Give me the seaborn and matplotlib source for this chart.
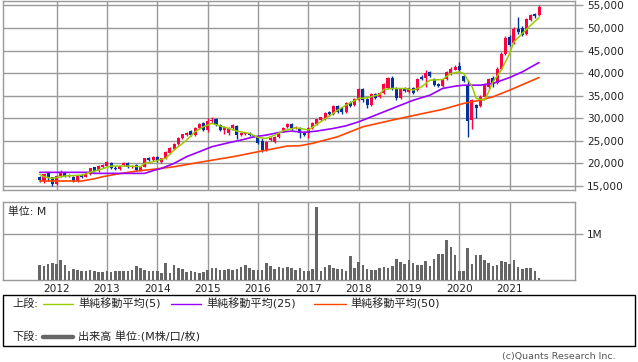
import numpy as np
import pandas as pd
import matplotlib
matplotlib.use("Agg")
import matplotlib.pyplot as plt
from matplotlib.patches import Rectangle
from matplotlib.lines import Line2D
import seaborn as sns

# ---------------- data (monthly, 2011-09 .. 2021-08) ----------------
START_MONTH = "2011-09"

opens = [17060, 16180, 17800, 16900, 15440, 17210, 17950, 17500, 17060, 16110,
         17430, 17060, 17580, 19130, 18390, 19300, 19500, 20160, 19050, 18760,
         19650, 20010, 19300, 19650, 18540, 19270, 21270, 20750, 21420, 20400,
         21120, 22400, 23300, 24300, 25700, 26300, 27235, 26280, 27900, 28900,
         27400, 29300, 29750, 28490, 27300, 26800, 27760, 28400, 26300, 26500,
         26700, 26200, 25940, 25000, 22960, 25180, 24800, 25770, 27010, 28000,
         28710, 27800, 27900, 26900, 26650, 27900, 28800, 29700, 29750, 31440,
         30900, 32770, 32300, 31440, 33430, 32920, 34020, 36390, 34180, 32920,
         35280, 34800, 35640, 36610, 38960, 36610, 34400, 36610, 35860, 36610,
         36235, 39260, 38900, 40150, 38670, 37700, 37120, 38600, 39930, 40810,
         41620, 39330, 37340, 29600, 32920, 32700, 34760, 36830, 39040, 37850,
         41030, 44350, 48030, 46700, 49880, 50100, 48780, 51880, 53050, 52830]
highs = [17280, 17700, 17900, 17060, 17500, 18540, 18200, 17700, 17300, 17450,
         17650, 17800, 19100, 19300, 19600, 19900, 20500, 20300, 19400, 19700,
         20300, 20400, 19700, 19800, 19500, 21300, 21500, 21700, 21600, 21300,
         22800, 23700, 24600, 25900, 26600, 26900, 27500, 28100, 29000, 29100,
         30100, 30200, 30000, 28700, 28300, 28000, 28700, 28600, 26900, 26900,
         26900, 26400, 26200, 25600, 25000, 25800, 26100, 26800, 28100, 28900,
         28900, 28300, 28100, 27200, 28100, 29100, 29900, 30400, 31400, 31700,
         32900, 33000, 32600, 33700, 33800, 34400, 36700, 36800, 34500, 35500,
         35700, 35900, 37900, 39100, 39300, 36900, 36700, 37000, 36900, 36900,
         38900, 39500, 40800, 40500, 38900, 37900, 38800, 40500, 41300, 41800,
         42500, 39600, 38500, 34300, 33200, 35130, 37900, 38900, 39400, 41300,
         44600, 48200, 48500, 50200, 52450, 50500, 52300, 53200, 53300, 55040]
lows = [15960, 15590, 16110, 15070, 15300, 17000, 17000, 17100, 15900, 15960,
        16800, 16900, 17500, 18200, 18200, 19100, 19400, 18700, 18600, 18600,
        19500, 19000, 19100, 18400, 18300, 19200, 20600, 20500, 20300, 20100,
        21000, 22200, 22900, 24100, 25500, 26000, 26000, 26100, 27700, 27100,
        27000, 29000, 28300, 27200, 26600, 26400, 27500, 25500, 26000, 26200,
        26000, 25800, 24200, 22500, 22800, 24900, 24600, 25600, 26900, 27800,
        27500, 27600, 25700, 26000, 25700, 27700, 28600, 29500, 29600, 30600,
        30700, 31200, 31000, 31200, 32500, 32700, 33800, 33700, 32200, 32700,
        34300, 34600, 35400, 36400, 36200, 34100, 34200, 35800, 35600, 35300,
        36000, 38400, 37000, 39100, 37100, 36900, 36900, 38400, 39700, 40600,
        40500, 38000, 25770, 27540, 29970, 32500, 34500, 36600, 37000, 37600,
        40800, 44100, 46000, 46400, 48780, 48200, 48400, 51600, 52200, 52600]
closes = [16330, 17580, 17060, 15440, 17210, 18170, 17210, 17280, 16110, 17280,
          17060, 17580, 18910, 18390, 19420, 19650, 20240, 18910, 18760, 19500,
          20010, 19130, 19450, 18540, 19270, 21120, 20750, 21490, 20530, 21120,
          22590, 23480, 24360, 25690, 26430, 26720, 26280, 27900, 28790, 27390,
          29500, 29700, 28490, 27390, 28120, 27760, 28490, 26280, 26700, 26650,
          26200, 26000, 24440, 22960, 24800, 25550, 25900, 26650, 27900, 28640,
          27750, 28050, 26650, 26400, 27900, 28870, 29750, 30200, 31210, 30850,
          32700, 31440, 31300, 33430, 32770, 34180, 36390, 34020, 32920, 35280,
          34550, 35640, 37710, 38820, 36460, 34400, 36460, 36020, 36610, 35500,
          38670, 38670, 39930, 39330, 37340, 37120, 38600, 40290, 41030, 41400,
          40810, 38230, 29450, 34020, 32180, 34760, 37700, 38670, 37850, 41030,
          44350, 47890, 46190, 49880, 49130, 48400, 52100, 52830, 52600, 54660]
volume_m = [0.333, 0.312, 0.355, 0.377, 0.355, 0.442, 0.333, 0.203, 0.246, 0.225,
            0.210, 0.210, 0.225, 0.203, 0.174, 0.188, 0.196, 0.174, 0.196, 0.196,
            0.203, 0.210, 0.225, 0.312, 0.261, 0.225, 0.203, 0.203, 0.203, 0.159,
            0.377, 0.159, 0.333, 0.268, 0.239, 0.174, 0.196, 0.174, 0.152, 0.174,
            0.225, 0.261, 0.275, 0.232, 0.232, 0.246, 0.232, 0.246, 0.297, 0.333,
            0.261, 0.217, 0.225, 0.225, 0.377, 0.319, 0.254, 0.290, 0.268, 0.283,
            0.261, 0.225, 0.261, 0.203, 0.203, 0.239, 1.587, 0.203, 0.283, 0.326,
            0.261, 0.239, 0.239, 0.203, 0.529, 0.261, 0.391, 0.326, 0.246, 0.225,
            0.225, 0.261, 0.283, 0.275, 0.312, 0.464, 0.406, 0.355, 0.442, 0.370,
            0.333, 0.333, 0.413, 0.312, 0.457, 0.572, 0.572, 0.877, 0.725, 0.551,
            0.203, 0.203, 0.703, 0.355, 0.551, 0.551, 0.442, 0.384, 0.312, 0.333,
            0.413, 0.391, 0.355, 0.442, 0.283, 0.246, 0.268, 0.268, 0.203, 0.050]

ma5_months = ["2011-09", "2011-10", "2011-12", "2012-03", "2012-07", "2012-09", "2012-11",
              "2013-02", "2013-06", "2013-09", "2013-10", "2013-12", "2014-02", "2014-03",
              "2014-05", "2014-08", "2014-10", "2014-12", "2015-02", "2015-04", "2015-06",
              "2015-08", "2015-11", "2016-01", "2016-03", "2016-05", "2016-07", "2016-10",
              "2016-12", "2017-01", "2017-03", "2017-06", "2017-08", "2017-10", "2018-01",
              "2018-03", "2018-06", "2018-07", "2018-09", "2018-12", "2019-02", "2019-04",
              "2019-06", "2019-09", "2019-11", "2020-01", "2020-02", "2020-04", "2020-05",
              "2020-07", "2020-08", "2020-09", "2020-11", "2021-01", "2021-02", "2021-04",
              "2021-06", "2021-08"]
ma5_values = [17590, 17060, 16700, 17210, 17430, 18030, 18540,
              19420, 19420, 19270, 20020, 20380, 20900, 21130,
              22960, 25180, 27010, 28120, 28870, 28300, 27760,
              27170, 26650, 25770, 25550, 26280, 27230, 27900,
              27610, 27390, 28650, 30480, 31810, 32920, 34400,
              34530, 35290, 36390, 36610, 36610, 36240, 36970,
              38450, 38600, 39930, 40280, 39930, 37120, 34400,
              34020, 35860, 38070, 40660, 44350, 46910, 48780,
              50610, 52300]

ma25_months = ["2011-09", "2012-09", "2012-10", "2013-10", "2013-12", "2014-02", "2014-05",
               "2014-08", "2014-11", "2015-02", "2015-06", "2015-09", "2015-12", "2016-03",
               "2016-06", "2016-09", "2016-12", "2017-03", "2017-07", "2017-10", "2018-01",
               "2018-04", "2018-07", "2018-10", "2019-02", "2019-06", "2019-09", "2019-12",
               "2020-02", "2020-06", "2020-09", "2021-01", "2021-04", "2021-08"]
ma25_values = [18030, 18030, 17800, 17800, 18400, 18900, 20020,
               21500, 22590, 23700, 24580, 25180, 25900, 26280,
               26870, 27170, 26880, 27170, 27760, 28340, 29220,
               30330, 31430, 32540, 34000, 35130, 36610, 37120,
               37340, 37340, 37720, 39040, 40280, 42360]

ma50_months = ["2011-09", "2012-07", "2012-10", "2012-12", "2013-03", "2013-08", "2013-12",
               "2014-05", "2014-11", "2015-07", "2016-01", "2016-08", "2016-11", "2017-02",
               "2017-08", "2018-02", "2018-09", "2019-03", "2019-09", "2020-02", "2020-06",
               "2020-09", "2021-01", "2021-08"]
ma50_values = [16110, 16110, 16600, 17060, 17580, 18300, 18700,
               19270, 20240, 21480, 22590, 23850, 23920, 24450,
               25910, 28120, 29600, 30800, 31970, 33290, 34020,
               34750, 36240, 39040]

year_labels = ["2012", "2013", "2014", "2015", "2016", "2017", "2018", "2019", "2020", "2021"]
price_ticks = [15000, 20000, 25000, 30000, 35000, 40000, 45000, 50000, 55000]
legend_labels = ["単純移動平均(5)", "単純移動平均(25)", "単純移動平均(50)"]

# ---------------- style ----------------
sns.set_style("white")
plt.rcParams["font.family"] = ["DejaVu Sans", "Noto Sans CJK JP"]

RED = "#ff0040"
BLUE = "#003399"
C_MA5 = "#99cc00"
C_MA25 = "#9900ff"
C_MA50 = "#ff4400"
GRID = "#999999"
TXT = "#222222"

months = pd.period_range(START_MONTH, periods=len(closes), freq="M")
x = np.arange(len(months))


def mi(ms):
    return np.array([(pd.Period(m, "M") - months[0]).n for m in ms])


o = np.array(opens, float)
h = np.array(highs, float)
l = np.array(lows, float)
c = np.array(closes, float)
v = np.array(volume_m, float)

W, H = 638, 362
fig = plt.figure(figsize=(W / 100, H / 100), dpi=100)


def axes_px(left, top, right, bottom):
    return fig.add_axes([left / W, 1 - bottom / H, (right - left) / W, (bottom - top) / H])


ax = axes_px(3.3, 0.5, 574.7, 190.3)
axv = axes_px(3.3, 201.7, 574.7, 280.3)

year_pos = mi([f"{y}-01" for y in year_labels])
XMIN, XMAX = -8.70, 127.5

# ---------------- price panel ----------------
up = c >= o
cols = np.where(up, RED, BLUE)
ax.vlines(x, l, h, colors=cols, lw=1.0, zorder=3)
body_lo = np.minimum(o, c)
body_h = np.maximum(np.abs(c - o), 130)
ax.bar(x, body_h, bottom=body_lo, width=0.72, color=cols, lw=0, zorder=3)

sns.lineplot(x=mi(ma50_months), y=ma50_values, ax=ax, color=C_MA50, lw=1.2, zorder=4)
sns.lineplot(x=mi(ma25_months), y=ma25_values, ax=ax, color=C_MA25, lw=1.2, zorder=4)
sns.lineplot(x=mi(ma5_months), y=ma5_values, ax=ax, color=C_MA5, lw=1.1, zorder=5)

ax.set_xlim(XMIN, XMAX)
ax.set_ylim(14050, 56100)
ax.set_xticks(year_pos)
ax.set_xticklabels([])
ax.set_yticks(price_ticks)
ax.set_yticklabels([f"{t:,}" for t in price_ticks])
ax.yaxis.tick_right()
ax.tick_params(axis="y", length=6, width=1, color=GRID, pad=3, labelsize=7.6, labelcolor=TXT)
ax.tick_params(axis="x", length=0)
ax.grid(True, color=GRID, lw=1.0)
ax.set_axisbelow(True)
ax.set_xlabel("")
ax.set_ylabel("")
for s in ax.spines.values():
    s.set_color(GRID)
    s.set_linewidth(1.0)

# ---------------- volume panel ----------------
axv.bar(x, v, width=0.62, color="#666666", lw=0, zorder=3)
axv.set_xlim(XMIN, XMAX)
axv.set_ylim(0, 1.709)
axv.set_yticks([1])
axv.set_yticklabels(["1M"])
axv.yaxis.tick_right()
axv.tick_params(axis="y", length=6, width=1, color=GRID, pad=3, labelsize=7.6, labelcolor=TXT)
axv.set_xticks(year_pos)
axv.set_xticklabels(year_labels)
axv.tick_params(axis="x", length=0, pad=2.5, labelsize=7.6, labelcolor=TXT)
axv.grid(True, color=GRID, lw=1.0)
axv.set_axisbelow(True)
for s in axv.spines.values():
    s.set_color(GRID)
    s.set_linewidth(1.0)
axv.text(5 / 571.4, 0.87, "単位: M", transform=axv.transAxes, fontsize=7.8,
         color=TXT, va="center", ha="left")

# ---------------- legend box ----------------
fig.add_artist(Rectangle((3.3 / W, 1 - 345.7 / H), (635.3 - 3.3) / W, (345.7 - 295) / H,
                         transform=fig.transFigure, fill=False, ec="black", lw=1.0))


def fy(py):
    return 1 - py / H


row1, row2 = 303.5, 336.8
fig.text(12 / W, fy(row1), "上段:", fontsize=8, va="center", ha="left", color=TXT)
fig.text(12 / W, fy(row2), "下段:", fontsize=8, va="center", ha="left", color=TXT)
for (x0, x1, tx), col, lab in zip([(43, 73, 78), (171, 201, 206), (314, 346, 350)],
                                  [C_MA5, C_MA25, C_MA50], legend_labels):
    fig.add_artist(Line2D([x0 / W, x1 / W], [fy(row1)] * 2, color=col, lw=1.0,
                          transform=fig.transFigure))
    fig.text(tx / W, fy(row1), lab, fontsize=8, va="center", ha="left", color=TXT)
fig.add_artist(Line2D([43 / W, 73 / W], [fy(row2)] * 2, color="#666666", lw=3.2,
                      transform=fig.transFigure))
fig.text(78 / W, fy(row2), "出来高 単位:(M株/口/枚)", fontsize=8, va="center", ha="left", color=TXT)

fig.text(616 / W, fy(357), "(c)Quants Research Inc.", fontsize=6.8, va="center", ha="right",
         color="#555555")

fig.savefig("out.png", dpi=100)
